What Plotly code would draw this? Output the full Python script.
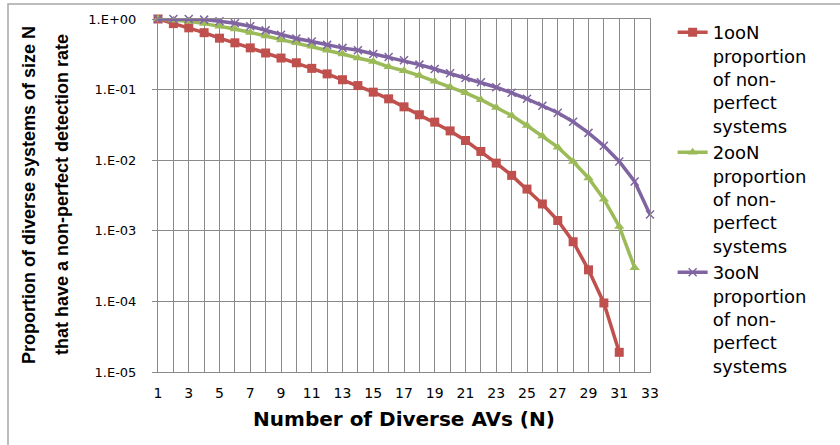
import plotly.graph_objects as go

# ---- data ----
n_values = list(range(1, 34))
one_oo_n = [1.0, 0.86, 0.75, 0.64, 0.535, 0.46, 0.39, 0.33, 0.28, 0.24, 0.20, 0.167, 0.138,
            0.114, 0.092, 0.074, 0.057, 0.044, 0.0346, 0.026, 0.019, 0.0133, 0.0091, 0.0061,
            0.0039, 0.0024, 0.0014, 0.00070, 0.00028, 0.000095, 0.000019]
two_oo_n = [1.0, 0.96, 0.93, 0.86, 0.79, 0.72, 0.645, 0.575, 0.505, 0.46, 0.41, 0.36, 0.32,
            0.28, 0.25, 0.21, 0.185, 0.158, 0.131, 0.109, 0.090, 0.072, 0.056, 0.043, 0.031,
            0.022, 0.0153, 0.0096, 0.0056, 0.0028, 0.00115, 0.0003]
three_oo_n = [1.0, 1.0, 1.0, 0.98, 0.93, 0.87, 0.79, 0.69, 0.60, 0.53, 0.48, 0.43, 0.39,
              0.36, 0.32, 0.29, 0.26, 0.226, 0.196, 0.17, 0.146, 0.127, 0.108, 0.090, 0.074,
              0.059, 0.047, 0.035, 0.0244, 0.016, 0.0096, 0.0050, 0.0017]
series_names = ["1ooN<br>proportion<br>of non-<br>perfect<br>systems",
                "2ooN<br>proportion<br>of non-<br>perfect<br>systems",
                "3ooN<br>proportion<br>of non-<br>perfect<br>systems"]
y_tick_vals = [1, 0.1, 0.01, 0.001, 0.0001, 0.00001]
y_tick_labels = ["1.E+00", "1.E-01", "1.E-02", "1.E-03", "1.E-04", "1.E-05"]
x_tick_labels = [str(n) if n % 2 == 1 else "" for n in n_values]
x_title = "Number of Diverse AVs (N)"
y_title_lines = ["Proportion of diverse systems of size N",
                 "that have a non-perfect detection rate"]

RED, GREEN, PURPLE = "#C0504D", "#9BBB59", "#8064A2"
GRID = "#8A8A8A"
WIDE = "DejaVu Sans, Verdana, sans-serif"
NARROW = "Liberation Sans, Arial, sans-serif"

# plot area (page pixels): x 158..650, y 19..372
PL, PR, PT, PB = 158, 650, 19, 372
PW, PH = PR - PL, PB - PT


def px_x(x):
    return (x - PL) / PW


def px_y(y):
    return (PB - y) / PH


fig = go.Figure()
fig.add_trace(go.Scatter(x=n_values[:len(one_oo_n)], y=one_oo_n, name=series_names[0],
                         mode="lines+markers", line=dict(color=RED, width=3.5), cliponaxis=False,
                         marker=dict(symbol="square", size=9, color=RED)))
fig.add_trace(go.Scatter(x=n_values[:len(two_oo_n)], y=two_oo_n, name=series_names[1],
                         mode="lines+markers", line=dict(color=GREEN, width=3.5), cliponaxis=False,
                         marker=dict(symbol="triangle-up", size=9, color=GREEN)))
fig.add_trace(go.Scatter(x=n_values[:len(three_oo_n)], y=three_oo_n, name=series_names[2],
                         mode="lines+markers", line=dict(color=PURPLE, width=3.5), cliponaxis=False,
                         marker=dict(symbol="x-thin", size=8, color=PURPLE,
                                     line=dict(color=PURPLE, width=1.5))))

fig.update_layout(
    width=840, height=445,
    margin=dict(l=PL, r=840 - PR, t=PT, b=445 - PB, autoexpand=False),
    paper_bgcolor="white", plot_bgcolor="white",
    showlegend=True,
    legend=dict(x=1.046, y=1.014, xanchor="left", yanchor="top", valign="top",
                font=dict(family=WIDE, size=18, color="black"), maxheight=440,
                tracegroupgap=0, bgcolor="rgba(0,0,0,0)"),
    xaxis=dict(range=[1, 33], tickmode="array", tickvals=n_values, ticktext=x_tick_labels,
               showgrid=True, gridcolor=GRID, gridwidth=1, zeroline=False,
               showline=True, linecolor=GRID, linewidth=1, mirror=True, automargin=False,
               ticks="", tickfont=dict(family=WIDE, size=14, color="black"),
               ticklabelstandoff=8,
               title=dict(text="<b>" + x_title + "</b>", standoff=12,
                          font=dict(family=WIDE, size=20, color="black"))),
    yaxis=dict(type="log", range=[-5, 0], tickmode="array", tickvals=y_tick_vals,
               ticktext=y_tick_labels, showgrid=True, gridcolor=GRID, gridwidth=1,
               zeroline=False, showline=True, linecolor=GRID, linewidth=1, mirror=True,
               automargin=False,
               ticks="outside", ticklen=5, tickcolor=GRID,
               tickfont=dict(family=WIDE, size=13, color="black"),
               ticklabelstandoff=13),
)

# two-line y title as rotated annotations (Excel spacing)
for txt, xpx in zip(y_title_lines, [29, 62]):
    fig.add_annotation(text="<b>" + txt + "</b>", textangle=-90,
                       xref="paper", yref="paper",
                       x=px_x(xpx), y=px_y(195),
                       xanchor="center", yanchor="middle", showarrow=False,
                       font=dict(family=NARROW, size=18, color="black"))

# outer chart border
fig.add_shape(type="rect", xref="paper", yref="paper",
              x0=px_x(8), x1=px_x(843), y0=px_y(447), y1=px_y(4),
              line=dict(color="#A6A6A6", width=1.5), fillcolor="rgba(0,0,0,0)", layer="below")

fig.write_html("out.html", config={"displayModeBar": False},
               post_script="document.body.style.margin='0px';")
